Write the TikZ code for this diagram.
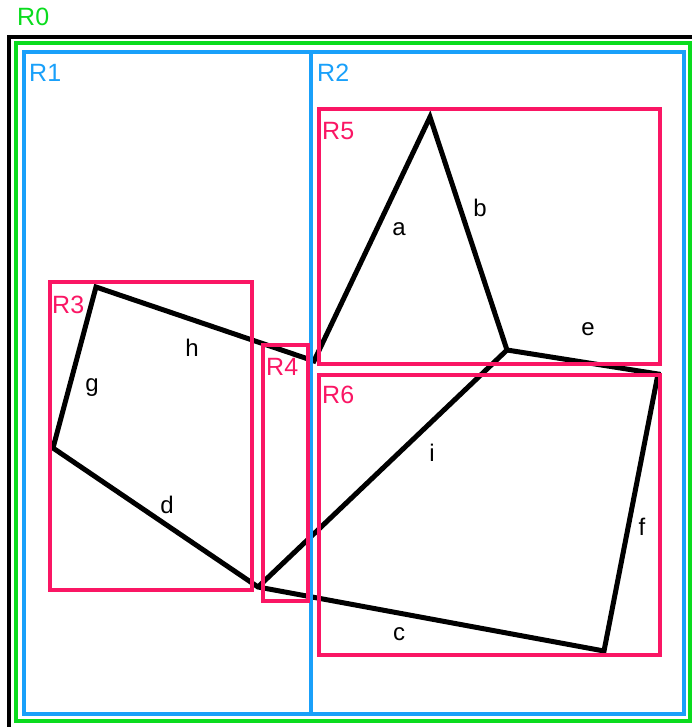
\documentclass[tikz,border=0pt]{standalone}
\usepackage{fontspec}
\setmainfont{Liberation Sans}
\definecolor{rgreen}{RGB}{10,220,30}
\definecolor{rblue}{RGB}{25,160,250}
\definecolor{rpink}{RGB}{250,22,100}
\tikzset{
  edgeline/.style={line width=5pt, line join=miter},
  pinkbox/.style={draw=rpink, line width=4pt},
  bluebox/.style={draw=rblue, line width=4pt},
  greenbox/.style={draw=rgreen, line width=4pt},
  outerbox/.style={draw=black, line width=3.5pt},
  elabel/.style={font=\fontsize{24}{28}\selectfont, inner sep=0pt},
  rlabel/.style={font=\fontsize{25}{30}\selectfont, inner sep=0pt, anchor=base west},
}
\begin{document}
\begin{tikzpicture}[x=1pt,y=-1pt]
\useasboundingbox (0,0) rectangle (692,727);
% polygon vertices
\coordinate (A) at (430,117);
\coordinate (B) at (507,350);
\coordinate (M) at (314,361);
\coordinate (H) at (96,287);
\coordinate (G) at (53,448);
\coordinate (D) at (258,587);
\coordinate (C) at (604,651);
\coordinate (F) at (658,374);
% edges
\draw[edgeline] (H) -- (G) -- (D) -- (C) -- (F) -- (B) -- (A) -- (M) -- cycle;
\draw[edgeline] (D) -- (B);
% edge labels
\node[elabel] (la) at (399,229) {a};
\node[elabel] (lb) at (480,208) {b};
\node[elabel] (le) at (588,329) {e};
\node[elabel] (li) at (432,453) {i};
\node[elabel] (lf) at (642,527) {f};
\node[elabel] (lc) at (399,634) {c};
\node[elabel] (ld) at (167,505) {d};
\node[elabel] (lh) at (192,348) {h};
\node[elabel] (lg) at (92,388) {g};
% region boxes
\draw[outerbox] (9,37) rectangle (694,729);
\draw[greenbox] (15.5,43.5) rectangle (689.5,720.5);
\draw[bluebox] (24,52.5) rectangle (311,714);
\draw[bluebox] (311,52.5) rectangle (684,714);
\draw[pinkbox] (50,282) rectangle (251.5,590);
\draw[pinkbox] (263,344.5) rectangle (307.5,601);
\draw[pinkbox] (319,109) rectangle (659.5,364);
\draw[pinkbox] (319,375) rectangle (659.5,655);
% region labels
\node[rlabel, text=rgreen] (r0) at (17,26) {R0};
\node[rlabel, text=rblue] (r1) at (29,82) {R1};
\node[rlabel, text=rblue] (r2) at (317,82) {R2};
\node[rlabel, text=rpink] (r3) at (52,313) {R3};
\node[rlabel, text=rpink] (r4) at (266,375) {R4};
\node[rlabel, text=rpink] (r5) at (322,140) {R5};
\node[rlabel, text=rpink] (r6) at (322,403) {R6};
\end{tikzpicture}
\end{document}
